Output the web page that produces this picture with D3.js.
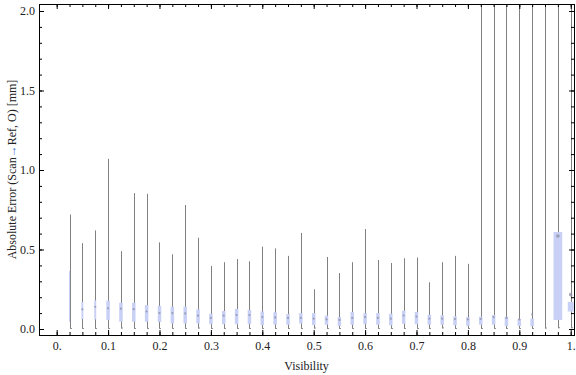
<!DOCTYPE html>
<html>
<head>
<meta charset="utf-8">
<script src="https://cdn.jsdelivr.net/npm/d3@7/dist/d3.min.js"></script>
<style>
  body { margin: 0; background: #fff; }
  text { font-family: "Liberation Serif", "Times New Roman", serif; }
</style>
</head>
<body>
<svg id="chart" width="576" height="375"></svg>
<script>
// visibility bins (box centres)
var visibility = [0.025,0.05,0.075,0.1,0.125,0.15,0.175,0.2,0.225,0.25,
                  0.275,0.3,0.325,0.35,0.375,0.4,0.425,0.45,0.475,0.5,
                  0.525,0.55,0.575,0.6,0.625,0.65,0.675,0.7,0.725,0.75,
                  0.775,0.8,0.825,0.85,0.875,0.9,0.925,0.95,0.975,1.0];

// whisker ends, quartiles and medians [mm]; the last whiskers leave the plot
var whiskerHi = [0.72,0.54,0.62,1.07,0.49,0.855,0.85,0.545,0.47,0.78,
                 0.574,0.396,0.42,0.44,0.426,0.518,0.507,0.46,0.604,0.25,
                 0.453,0.352,0.42,0.629,0.434,0.415,0.445,0.45,0.294,0.42,
                 0.46,0.41,2.6,2.8,3.1,2.9,3.3,3.6,4.2,3.0];
var whiskerLo = [0,0,0,0,0.003,0,0,0,0,0,
                 0.003,0,0,0,0,0,0,0,0,0.003,
                 0,0,0,0,0,0,0,0,0,0.004,
                 0,0,0,0,0,0,0,0.003,0.005,0.005];
var q3 = [0.365,0.17,0.18,0.178,0.165,0.165,0.15,0.145,0.14,0.14,
          0.124,0.096,0.113,0.126,0.12,0.11,0.105,0.094,0.10,0.10,
          0.084,0.075,0.107,0.099,0.10,0.096,0.115,0.107,0.09,0.086,
          0.08,0.075,0.077,0.088,0.077,0.063,0.065,null,0.61,0.17];
var q1 = [0.046,0.063,0.06,0.057,0.046,0.046,0.046,0.044,0.035,0.035,
          0.035,0.03,0.03,0.03,0.03,0.025,0.027,0.027,0.035,0.025,
          0.027,0.019,0.027,0.03,0.027,0.023,0.033,0.03,0.027,0.027,
          0.023,0.019,0.027,0.027,0.019,0.019,0.019,null,0.057,0.11];
var median = [null,0.124,0.14,0.13,0.128,0.125,0.11,0.10,0.10,0.098,
              0.084,0.07,0.084,0.088,0.088,0.075,0.073,0.07,0.07,0.065,
              0.06,0.057,0.07,0.075,0.07,0.065,0.085,0.078,0.065,0.065,
              0.063,0.06,0.063,0.075,0.07,0.06,0.092,null,0.585,0.216];
// relative sample counts (box width)
var counts = [30,55,55,100,100,100,100,100,100,100,
              100,100,100,100,100,100,100,100,100,100,
              100,100,100,100,100,100,100,100,100,100,
              100,100,100,100,100,100,100,100,250,170];

var xMajor = [0,0.1,0.2,0.3,0.4,0.5,0.6,0.7,0.8,0.9,1.0];
var yMajor = [0,0.5,1.0,1.5,2.0];

var svg = d3.select("#chart");
var L = 39, R = 574, T = 4, B = 335;

var x = d3.scaleLinear().domain([-0.0344, 1.0064]).range([L, R]);
var y = d3.scaleLinear().domain([-0.0377, 2.044]).range([B, T]);
var w = d3.scaleLinear().domain([0, 100]).range([0, 3.5]);

var rows = visibility.map(function(v, i) {
  return {v: v, lo: whiskerLo[i], hi: whiskerHi[i], q1: q1[i], q3: q3[i], med: median[i], n: counts[i]};
});

svg.append("clipPath").attr("id", "clip")
  .append("rect").attr("x", L).attr("y", T).attr("width", R - L).attr("height", B - T);

var plot = svg.append("g").attr("clip-path", "url(#clip)");

function px(v) { return Math.round(x(v)) + 0.5; }

// whiskers
plot.selectAll("line.whisker").data(rows).enter().append("line")
  .attr("class", "whisker")
  .attr("x1", function(d) { return px(d.v); })
  .attr("x2", function(d) { return px(d.v); })
  .attr("y1", function(d) { return y(d.lo); })
  .attr("y2", function(d) { return y(d.hi); })
  .style("stroke", "#808080").style("stroke-width", 1);

// small end caps
plot.selectAll("line.cap").data(rows).enter().append("line")
  .attr("class", "cap")
  .attr("x1", function(d) { return px(d.v) - 0.5; })
  .attr("x2", function(d) { return px(d.v) + 1.5; })
  .attr("y1", function(d) { return y(d.lo) - 0.5; })
  .attr("y2", function(d) { return y(d.lo) - 0.5; })
  .style("stroke", "#909090").style("stroke-width", 1);

// boxes
plot.selectAll("rect.box").data(rows.filter(function(d) { return d.q1 != null; })).enter().append("rect")
  .attr("class", "box")
  .attr("x", function(d) { return x(d.v) - w(d.n) / 2; })
  .attr("width", function(d) { return w(d.n); })
  .attr("y", function(d) { return y(d.q3); })
  .attr("height", function(d) { return y(d.q1) - y(d.q3); })
  .style("fill", "#c9d0f5");

// medians
plot.selectAll("circle.med").data(rows.filter(function(d) { return d.med != null; })).enter().append("circle")
  .attr("class", "med")
  .attr("cx", function(d) { return x(d.v); })
  .attr("cy", function(d) { return y(d.med); })
  .attr("r", function(d) { return d.n > 150 ? 1.8 : 1.1; })
  .style("fill", "#8e91a8").style("opacity", 0.8);

// frame with inward ticks on all four sides
function minor(lo, hi, step) {
  return d3.range(Math.round((hi - lo) / step) + 1).map(function(i) { return +(lo + i * step).toFixed(4); });
}
var xMinor = minor(0, 1, 0.025), yMinor = minor(0, 2, 0.1);
var fmtX = function(d) { return d === 0 ? "0." : d === 1 ? "1." : d3.format(".1f")(d); };

function styleAxis(g) {
  g.select(".domain").remove();
  g.selectAll("line").style("stroke", "#000");
  g.selectAll("text").style("font-size", "12px").style("fill", "#222")
    .style("font-family", "'Liberation Serif', 'Times New Roman', serif");
}

svg.append("g").attr("transform", "translate(0," + B + ")")
  .call(d3.axisBottom(x).tickValues(xMinor).tickSize(-3).tickFormat("")).call(styleAxis);
svg.append("g").attr("transform", "translate(0," + B + ")")
  .call(d3.axisBottom(x).tickValues(xMajor).tickSize(-5).tickPadding(6).tickFormat(fmtX)).call(styleAxis);
svg.append("g").attr("transform", "translate(0," + T + ")")
  .call(d3.axisTop(x).tickValues(xMinor).tickSize(-3).tickFormat("")).call(styleAxis);
svg.append("g").attr("transform", "translate(0," + T + ")")
  .call(d3.axisTop(x).tickValues(xMajor).tickSize(-5).tickFormat("")).call(styleAxis);

svg.append("g").attr("transform", "translate(" + L + ",0)")
  .call(d3.axisLeft(y).tickValues(yMinor).tickSize(-3).tickFormat("")).call(styleAxis);
svg.append("g").attr("transform", "translate(" + L + ",0)")
  .call(d3.axisLeft(y).tickValues(yMajor).tickSize(-5).tickPadding(4).tickFormat(d3.format(".1f"))).call(styleAxis);
svg.append("g").attr("transform", "translate(" + R + ",0)")
  .call(d3.axisRight(y).tickValues(yMinor).tickSize(-3).tickFormat("")).call(styleAxis);
svg.append("g").attr("transform", "translate(" + R + ",0)")
  .call(d3.axisRight(y).tickValues(yMajor).tickSize(-5).tickFormat("")).call(styleAxis);

svg.append("rect")
  .attr("x", L + 0.5).attr("y", T + 0.5)
  .attr("width", R - L).attr("height", B - T)
  .style("fill", "none").style("stroke", "#000").style("stroke-width", 1);

// axis labels
svg.append("text")
  .attr("x", (L + R) / 2).attr("y", 370)
  .attr("text-anchor", "middle")
  .style("font-size", "12px").style("fill", "#222")
  .text("Visibility");

var ylab = svg.append("text")
  .attr("transform", "translate(16," + (T + B) / 2 + ") rotate(-90)")
  .attr("text-anchor", "middle")
  .style("font-size", "12px").style("fill", "#222");
ylab.append("tspan").text("Absolute Error (Scan");
ylab.append("tspan").style("fill", "#3f6fd0").text("→");
ylab.append("tspan").text("Ref, O) [mm]");
</script>
</body>
</html>
